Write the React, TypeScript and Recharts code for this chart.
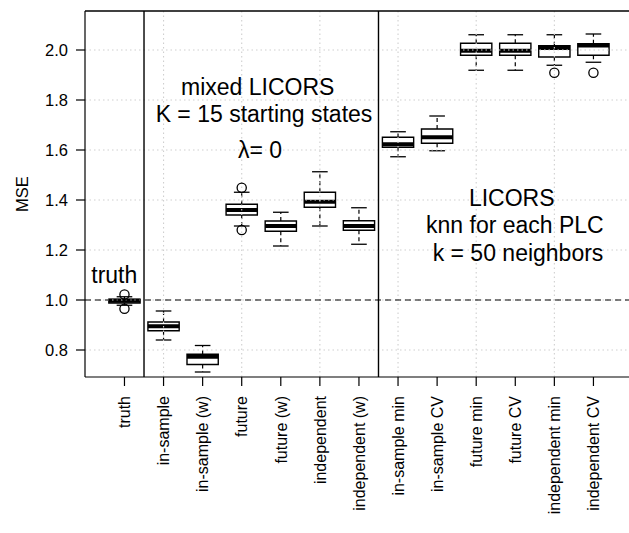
import React from 'react';
import { ComposedChart, XAxis, YAxis, ReferenceArea, ReferenceLine, ReferenceDot, Scatter } from 'recharts';

const categories = ['truth', 'in-sample', 'in-sample (w)', 'future', 'future (w)', 'independent', 'independent (w)', 'in-sample min', 'in-sample CV', 'future min', 'future CV', 'independent min', 'independent CV'];
const positions = [1, 2, 3, 4, 5, 6, 7, 8, 9, 10, 11, 12, 13];
const lowerWhisker = [0.979, 0.840, 0.712, 1.296, 1.216, 1.296, 1.223, 1.573, 1.597, 1.919, 1.919, 1.939, 1.951];
const q1 = [0.988, 0.877, 0.742, 1.340, 1.275, 1.371, 1.279, 1.611, 1.627, 1.979, 1.979, 1.972, 1.979];
const median = [0.997, 0.895, 0.773, 1.360, 1.296, 1.393, 1.296, 1.623, 1.651, 1.997, 1.997, 2.008, 2.018];
const q3 = [1.003, 0.912, 0.783, 1.383, 1.316, 1.431, 1.317, 1.651, 1.684, 2.027, 2.027, 2.017, 2.025];
const upperWhisker = [1.013, 0.956, 0.818, 1.431, 1.351, 1.513, 1.369, 1.673, 1.736, 2.061, 2.061, 2.061, 2.064];
const outlierPos = [1, 1, 4, 4, 12, 13];
const outlierVal = [1.022, 0.965, 1.449, 1.280, 1.909, 1.909];
const yTicks = [0.8, 1.0, 1.2, 1.4, 1.6, 1.8, 2.0];
const xGrid = [2, 4, 6, 8, 10, 12];
const groupSeparators = [1.5, 7.5];
const referenceValue = 1.0;
const yDomain = [0.692, 2.156];
const xDomain = [-0.01, 13.91];

const annotationText = ['mixed LICORS', 'K = 15 starting states', 'λ= 0', 'truth', 'LICORS', 'knn for each PLC', 'k = 50 neighbors'];
const annotationX = [4.41, 4.57, 4.47, 0.74, 10.91, 10.99, 11.07];
const annotationY = [1.82, 1.711, 1.567, 1.067, 1.376, 1.267, 1.156];

const FONT = '"Liberation Sans", Arial, Helvetica, sans-serif';
const BOX_HALF = 0.4;
const STAPLE_HALF = 0.2;

const outliers = outlierPos.map((p, i) => ({ pos: p, v: outlierVal[i] }));

const XTick = (props: any) => {
  const { x, y, payload } = props;
  const label = categories[payload.value - 1];
  return (
    <g transform={`translate(${x},${y})`}>
      <text transform="rotate(-90)" textAnchor="end" dy="0.36em" fontSize={16} fill="#000" fontFamily={FONT}>
        {label}
      </text>
    </g>
  );
};

const YLabel = (props: any) => {
  const vb = props.viewBox || {};
  const cx = 28;
  const cy = (vb.y || 0) + (vb.height || 0) / 2;
  return (
    <text x={cx} y={cy} transform={`rotate(-90, ${cx}, ${cy})`} textAnchor="middle" fontSize={16.5} fill="#000" fontFamily={FONT}>
      MSE
    </text>
  );
};

export default function App() {
  return (
    <div style={{ position: 'absolute', left: 0, top: 0, width: 629, height: 533, overflow: 'hidden', background: '#fff' }}>
      <ComposedChart width={629} height={533} margin={{ top: 11, right: 0, bottom: 0, left: 0 }} style={{ fontFamily: FONT }}>
        <XAxis
          type="number"
          dataKey="pos"
          domain={xDomain}
          allowDataOverflow
          ticks={positions}
          interval={0}
          height={156}
          tickSize={9}
          tickMargin={10}
          axisLine={{ stroke: '#000', strokeWidth: 1.2 }}
          tickLine={{ stroke: '#000', strokeWidth: 1.2 }}
          tick={<XTick />}
        />
        <YAxis
          type="number"
          domain={yDomain}
          allowDataOverflow
          ticks={yTicks}
          interval={0}
          width={85}
          tickSize={9}
          tickMargin={8}
          tickFormatter={(v: number) => v.toFixed(1)}
          tick={{ fill: '#000', fontSize: 16.5, fontFamily: FONT }}
          axisLine={{ stroke: '#000', strokeWidth: 1.2 }}
          tickLine={{ stroke: '#000', strokeWidth: 1.2 }}
          label={<YLabel />}
        />

        {positions.map((p, i) => (
          <ReferenceArea
            key={`box-${p}`}
            x1={p - BOX_HALF}
            x2={p + BOX_HALF}
            y1={q1[i]}
            y2={q3[i]}
            fill="#fff"
            fillOpacity={1}
            stroke="#000"
            strokeWidth={1.4}
          />
        ))}
        {positions.map((p, i) => (
          <ReferenceLine key={`wu-${p}`} segment={[{ x: p, y: q3[i] }, { x: p, y: upperWhisker[i] }]} stroke="#000" strokeWidth={1.2} strokeDasharray="4 3" />
        ))}
        {positions.map((p, i) => (
          <ReferenceLine key={`wl-${p}`} segment={[{ x: p, y: q1[i] }, { x: p, y: lowerWhisker[i] }]} stroke="#000" strokeWidth={1.2} strokeDasharray="4 3" />
        ))}
        {positions.map((p, i) => (
          <ReferenceLine key={`su-${p}`} segment={[{ x: p - STAPLE_HALF, y: upperWhisker[i] }, { x: p + STAPLE_HALF, y: upperWhisker[i] }]} stroke="#000" strokeWidth={1.3} />
        ))}
        {positions.map((p, i) => (
          <ReferenceLine key={`sl-${p}`} segment={[{ x: p - STAPLE_HALF, y: lowerWhisker[i] }, { x: p + STAPLE_HALF, y: lowerWhisker[i] }]} stroke="#000" strokeWidth={1.3} />
        ))}
        {positions.map((p, i) => (
          <ReferenceLine key={`med-${p}`} segment={[{ x: p - BOX_HALF, y: median[i] }, { x: p + BOX_HALF, y: median[i] }]} stroke="#000" strokeWidth={4} />
        ))}

        <Scatter
          data={outliers}
          dataKey="v"
          isAnimationActive={false}
          shape={(props: any) => <circle cx={props.cx} cy={props.cy} r={4.6} fill="none" stroke="#000" strokeWidth={1.3} />}
        />

        {yTicks.map((t) => (
          <ReferenceLine key={`gy-${t}`} y={t} stroke="#cfcfcf" strokeWidth={1.1} strokeDasharray="1.5 3" />
        ))}
        {xGrid.map((t) => (
          <ReferenceLine key={`gx-${t}`} x={t} stroke="#cfcfcf" strokeWidth={1.1} strokeDasharray="1.5 3" />
        ))}
        <ReferenceLine y={referenceValue} stroke="#000" strokeWidth={1.2} strokeDasharray="6 4" />
        {groupSeparators.map((s) => (
          <ReferenceLine key={`sep-${s}`} x={s} stroke="#000" strokeWidth={1.4} />
        ))}
        <ReferenceLine y={yDomain[1]} stroke="#000" strokeWidth={1.4} />

        {annotationText.map((t, i) => (
          <ReferenceDot
            key={`ann-${i}`}
            x={annotationX[i]}
            y={annotationY[i]}
            r={1}
            shape={(props: any) => (
              <text x={props.cx} y={props.cy} textAnchor="middle" fontSize={23} fill="#000" fontFamily={FONT}>
                {t}
              </text>
            )}
          />
        ))}
      </ComposedChart>
    </div>
  );
}
